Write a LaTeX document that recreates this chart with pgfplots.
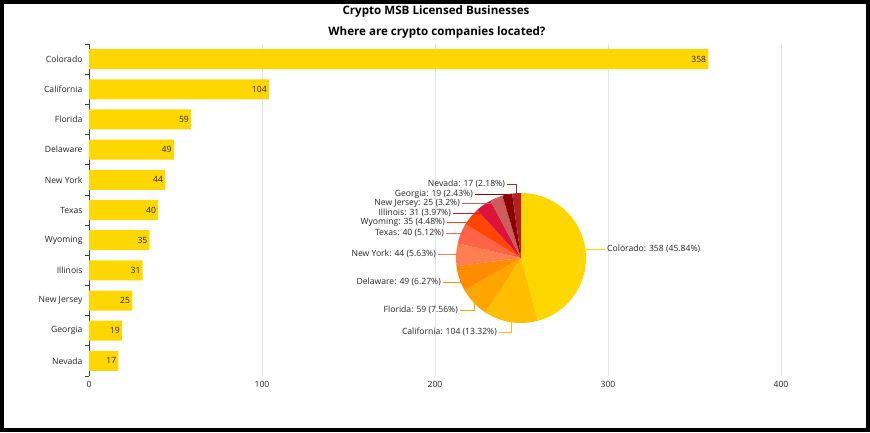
\documentclass[border=0pt]{standalone}
\usepackage{fontspec}
\setmainfont{Open Sans}
\usepackage{pgfplots}
\pgfplotsset{compat=1.18}
\definecolor{cCO}{HTML}{FFD700}
\definecolor{cCA}{HTML}{FFBF00}
\definecolor{cFL}{HTML}{FFA500}
\definecolor{cDE}{HTML}{FF8C00}
\definecolor{cNY}{HTML}{FF7F50}
\definecolor{cTX}{HTML}{FF6347}
\definecolor{cWY}{HTML}{FF4500}
\definecolor{cIL}{HTML}{DC143C}
\definecolor{cNJ}{HTML}{CD5C5C}
\definecolor{cGA}{HTML}{8B0000}
\definecolor{cNV}{HTML}{B22222}
\definecolor{txt}{HTML}{252423}
\begin{document}
\begin{tikzpicture}
\useasboundingbox (0,0) rectangle (870pt,432pt);
\draw[line width=4pt] (2pt,2pt) rectangle (868pt,430pt);
\node[font=\bfseries\fontsize{11.6}{13}\selectfont, text=black] at (436pt,421pt) {Crypto MSB Licensed Businesses};
\node[font=\bfseries\fontsize{11.6}{13}\selectfont, text=black] at (437pt,399.5pt) {Where are crypto companies located?};
\begin{axis}[
  at={(89pt,56pt)}, anchor=south west, width=692pt, height=332pt, scale only axis,
  xbar, bar width=20pt,
  xmin=0, xmax=400, ymin=-0.5, ymax=10.5, y dir=reverse,
  xtick={0,100,200,300,400},
  ytick={0,...,10},
  yticklabels={Colorado,California,Florida,Delaware,New York,Texas,Wyoming,Illinois,New Jersey,Georgia,Nevada},
  extra y ticks={-0.5,0.5,...,10.5},
  extra y tick labels={},
  extra y tick style={major tick length=4pt, tick align=outside, tick style={draw=black!75, line width=0.8pt}},
  major tick length=0pt,
  axis y line*=left, axis x line*=bottom,
  x axis line style={draw=none},
  y axis line style={draw=black!75, line width=0.8pt, -},
  xmajorgrids, major grid style={draw=black!10, line width=0.6pt},
  tick label style={font=\fontsize{8.6}{10}\selectfont, text=txt},
  /pgf/number format/assume math mode=true,
  yticklabel style={xshift=-3pt},
  xticklabel style={yshift=-2pt},
  nodes near coords,
  every node near coord/.append style={anchor=east, font=\fontsize{8.6}{10}\selectfont, text=txt, inner sep=2pt},
]
\addplot[fill=cCO, draw=none] coordinates {
(358,0) (104,1) (59,2) (49,3) (44,4) (40,5) (35,6) (31,7) (25,8) (19,9) (17,10)};
\end{axis}
\begin{axis}[
  at={(0pt,0pt)}, anchor=south west, width=870pt, height=432pt, scale only axis,
  hide axis, xmin=0, xmax=870, ymin=0, ymax=432, y dir=reverse, clip=false,
]
\def\cum{0}
\foreach \v/\c in {358/cCO,104/cCA,59/cFL,49/cDE,44/cNY,40/cTX,35/cWY,31/cIL,25/cNJ,19/cGA,17/cNV}{
  \pgfmathsetmacro{\a}{90-(\cum/781)*360}
  \pgfmathsetmacro{\b}{\a-(\v/781)*360}
  \edef\temp{\noexpand\fill[\c] (axis cs:521,258) -- ++(\a:65pt) arc[start angle=\a,end angle=\b,radius=65pt] -- cycle;}
  \temp
  \pgfmathsetmacro{\nc}{\cum+\v}
  \global\let\cum\nc
}
\gdef\cum{0}
\foreach \v/\c/\lx/\ly/\anc/\sh/\txt in {
  358/cCO/605/249/west/2/{Colorado: 358 (45.84\%)},
  104/cCA/499/332/east/-2/{California: 104 (13.32\%)},
  59/cFL/460/310/east/-2/{Florida: 59 (7.56\%)},
  49/cDE/443/282/east/-2/{Delaware: 49 (6.27\%)},
  44/cNY/438/254/east/-2/{New York: 44 (5.63\%)},
  40/cTX/446/233/east/-2/{Texas: 40 (5.12\%)},
  35/cWY/447/222/east/-2/{Wyoming: 35 (4.48\%)},
  31/cIL/453/213/east/-2/{Illinois: 31 (3.97\%)},
  25/cNJ/462/203/east/-2/{New Jersey: 25 (3.2\%)},
  19/cGA/475/194/east/-2/{Georgia: 19 (2.43\%)},
  17/cNV/507/184/east/-2/{Nevada: 17 (2.18\%)}}{
  \pgfmathsetmacro{\a}{90-(\cum/781)*360}
  \pgfmathsetmacro{\b}{\a-(\v/781)*360}
  \pgfmathsetmacro{\m}{(\a+\b)/2}
  \edef\temp{\noexpand\draw[\c, line width=0.7pt] (axis cs:\lx,\ly) -| ([shift={(\m:64pt)}]axis cs:521,258);
    \noexpand\node[anchor=\anc, xshift=\sh pt, inner sep=0pt, font=\noexpand\fontsize{8.6}{10}\noexpand\selectfont, text=txt] at (axis cs:\lx,\ly) {\txt};}
  \temp
  \pgfmathsetmacro{\nc}{\cum+\v}
  \global\let\cum\nc
}
\end{axis}
\end{tikzpicture}
\end{document}
